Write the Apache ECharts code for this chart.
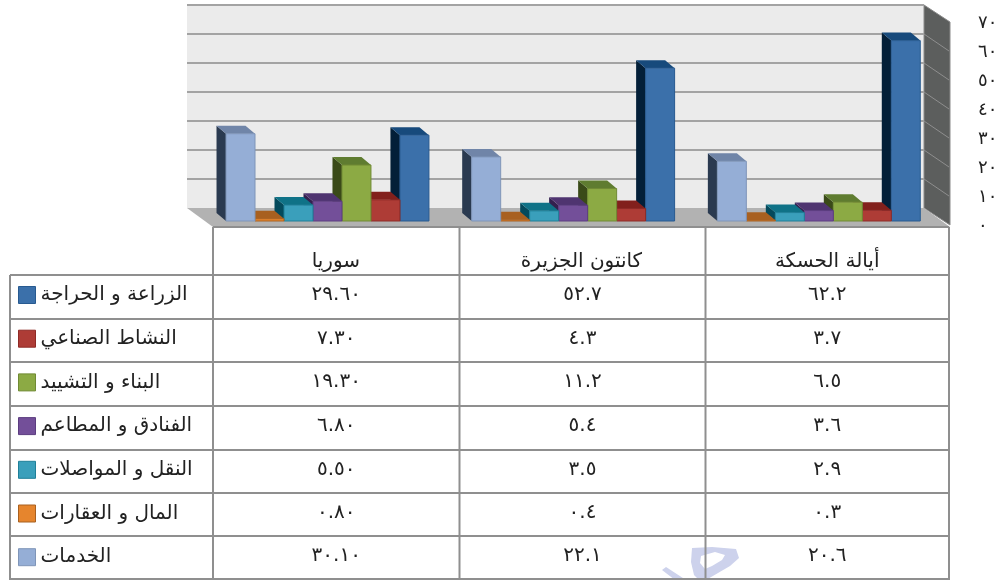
<!DOCTYPE html>
<html><head><meta charset="utf-8">
<style>html,body{margin:0;padding:0;background:#fff}#c{width:998px;height:580px}</style>
<script src="https://cdn.jsdelivr.net/npm/echarts@6/dist/echarts.min.js"></script>
</head><body><div id="c"></div>
<script>
const categories = ['سوريا', 'كانتون الجزيرة', 'أيالة الحسكة'];
const yTickLabels = ['٠','١٠','٢٠','٣٠','٤٠','٥٠','٦٠','٧٠'];
const yTicks = [0,10,20,30,40,50,60,70];
const categoryDecimals = [2,1,1];

const services     = [30.1, 22.1, 20.6];
const finance      = [0.8, 0.4, 0.3];
const transport    = [5.5, 3.5, 2.9];
const hotels       = [6.8, 5.4, 3.6];
const construction = [19.3, 11.2, 6.5];
const industry     = [7.3, 4.3, 3.7];
const agriculture  = [29.6, 52.7, 62.2];

const seriesNames = ['الخدمات','المال و العقارات','النقل و المواصلات','الفنادق و المطاعم','البناء و التشييد','النشاط الصناعي','الزراعة و الحراجة'];
const seriesValues = [services, finance, transport, hotels, construction, industry, agriculture];
const frontColors = ['#95aed6','#e6852d','#3a9fbb','#734f99','#8caa44','#ae3c36','#3b70aa'];
const topColors   = ['#7085a8','#a86020','#0f7287','#4f3470','#5f7c30','#82201c','#174a7c'];
const sideColors  = ['#2a3a50','#6b3a10','#044a5c','#33204f','#3a4a18','#5e1210','#031f38'];
const borderColors= ['#7f95b8','#a86020','#1f7f98','#5c3d80','#708a34','#8e2a26','#285a90'];

const FONT = '"DejaVu Sans"';
const BAR_DX = -9.5, BAR_DY = -8;
const WALL_DX = -26, WALL_DY = -13;
const toArabic = s => String(s).replace(/[0-9]/g, d => '٠١٢٣٤٥٦٧٨٩'[+d]);

function frameItem(params, api) {
  const r = params.coordSys;
  const base = r.y + r.height, right = r.x + r.width;
  const bx = r.x + WALL_DX, bxr = right + WALL_DX, by = base + WALL_DY, ty = r.y + WALL_DY;
  return { type: 'group', children: [
    { type:'polygon', shape:{points:[[bx,ty],[bxr,ty],[bxr,by],[bx,by]]}, style:{fill:'#ebebeb'} },
    { type:'polygon', shape:{points:[[bxr,ty],[right,ty+17],[right,by+17],[bxr,by]]}, style:{fill:'#5c5e5d', stroke:'#8a8a8a', lineWidth:1} },
    { type:'polygon', shape:{points:[[bx,by],[bxr,by],[right,base+6],[r.x,base+6]]}, style:{fill:'#b2b2b2'} }
  ]};
}
function gridItem(params, api) {
  const r = params.coordSys, v = api.value(0);
  const y = api.coord([0, v])[1] + WALL_DY;
  const bx = r.x + WALL_DX, bxr = r.x + r.width + WALL_DX;
  const kids = [];
  if (v > 0) {
    kids.push({ type:'line', shape:{x1:bx,y1:y,x2:bxr,y2:y}, style:{stroke:'#a3a3a3', lineWidth:2} });
    if (v < 70) kids.push({ type:'line', shape:{x1:bxr,y1:y,x2:bxr+25,y2:y+17}, style:{stroke:'#8e8e8e', lineWidth:1} });
  }
  return { type:'group', children:kids };
}
function barRenderer(idx) {
  return function (params, api) {
    const cat = api.value(0), val = api.value(1);
    const band = api.size([1,0])[0];
    const w = band * 0.118;
    const c = api.coord([cat, val]);
    const b = api.coord([cat, 0]);
    const x = c[0] - band/2 + band*0.053 + idx*w;
    const y = c[1], yb = b[1];
    return { type:'group', children:[
      { type:'polygon', shape:{points:[[x,y],[x+BAR_DX,y+BAR_DY],[x+BAR_DX,yb+BAR_DY],[x,yb]]}, style:{fill:sideColors[idx]} },
      { type:'polygon', shape:{points:[[x,y],[x+BAR_DX,y+BAR_DY],[x+w+BAR_DX,y+BAR_DY],[x+w,y]]}, style:{fill:topColors[idx]} },
      { type:'rect', shape:{x:x,y:y,width:w,height:yb-y}, style:{fill:frontColors[idx], stroke:borderColors[idx], lineWidth:1} }
    ]};
  };
}

const barSeries = seriesNames.map((name, i) => ({
  name, type:'custom', z:12 - i,
  coordinateSystem:'cartesian2d',
  itemStyle:{color:frontColors[i], borderColor:borderColors[i], borderWidth:1},
  renderItem:barRenderer(i),
  encode:{x:0,y:1},
  data:seriesValues[i].map((v,c)=>[c,v]),
  silent:true
}));

// data table
const colX = [213, 459.5, 705.5, 949];
const rowY = [275, 319, 362, 406, 450, 493, 536, 579];
const LINE = {stroke:'#8f8f8f', lineWidth:2};
const tableGraphics = [];
const addLine = (x1,y1,x2,y2) => tableGraphics.push({type:'line', z:3, shape:{x1,y1,x2,y2}, style:LINE});
// faint stamp showing through the lower edge of the table
const STAMP = '#cdd2ec';
tableGraphics.push({type:'polygon', z:1, shape:{points:[[692,548],[712,547],[736,549],[739,558],[730,566],[718,573],[706,580],[699,580],[694,575],[691,562]]}, style:{fill:STAMP}});
tableGraphics.push({type:'polygon', z:1, shape:{points:[[701,556],[715,552],[725,555],[722,560],[712,566],[705,569],[700,563]]}, style:{fill:'#fff'}});
tableGraphics.push({type:'polygon', z:1, shape:{points:[[662,570],[666,567],[686,580],[675,580]]}, style:{fill:STAMP}});
colX.forEach(x => addLine(x,227,x,580));
addLine(10,275,10,580);
addLine(213,227,949,227);
rowY.forEach(y => addLine(10,y,949,y));
const rowOrder = [6,5,4,3,2,1,0];
rowOrder.forEach((s,r) => {
  categories.forEach((_,c) => {
    tableGraphics.push({type:'text', z:4, x:(colX[c]+colX[c+1])/2, y:(rowY[r]+rowY[r+1])/2-2,
      style:{text:toArabic(seriesValues[s][c].toFixed(categoryDecimals[c])), font:'20px '+FONT, fill:'#222', textAlign:'center', textVerticalAlign:'middle'}});
  });
});

const chart = echarts.init(document.getElementById('c'));
chart.setOption({
  animation:false,
  backgroundColor:'#fff',
  textStyle:{fontFamily:FONT},
  legend:{
    orient:'vertical', left:18, top:285, height:295, padding:0, itemWidth:17, itemHeight:17, itemGap:23.7, selectedMode:false,
    itemStyle:{borderWidth:1},
    textStyle:{fontFamily:FONT, fontSize:20, color:'#222'},
    data:rowOrder.map(i=>({name:seriesNames[i], icon:'rect'}))
  },
  grid:{left:213, top:18, width:737, height:203, containLabel:false, outerBoundsMode:'none'},
  xAxis:{type:'category', data:categories, position:'bottom',
    axisLine:{show:false}, axisTick:{show:false}, splitLine:{show:false},
    axisLabel:{margin:31, fontSize:20, color:'#222', fontFamily:FONT}},
  yAxis:{type:'value', min:0, max:70, interval:10, position:'right',
    axisLine:{show:false}, axisTick:{show:false}, splitLine:{show:false},
    axisLabel:{margin:28, fontSize:18, color:'#222', align:'left', verticalAlign:'top', lineHeight:10, fontFamily:FONT,
      formatter:v=>yTickLabels[yTicks.indexOf(v)]}},
  graphic:tableGraphics,
  series:[
    {name:'frame', type:'custom', z:1, silent:true, renderItem:frameItem, data:[[0,0]], encode:{x:0,y:1}},
    {name:'gridlines', type:'custom', z:2, silent:true, renderItem:gridItem, data:yTicks.map(v=>[v]), encode:{y:0}, clip:false}
  ].concat(barSeries)
});
</script></body></html>
